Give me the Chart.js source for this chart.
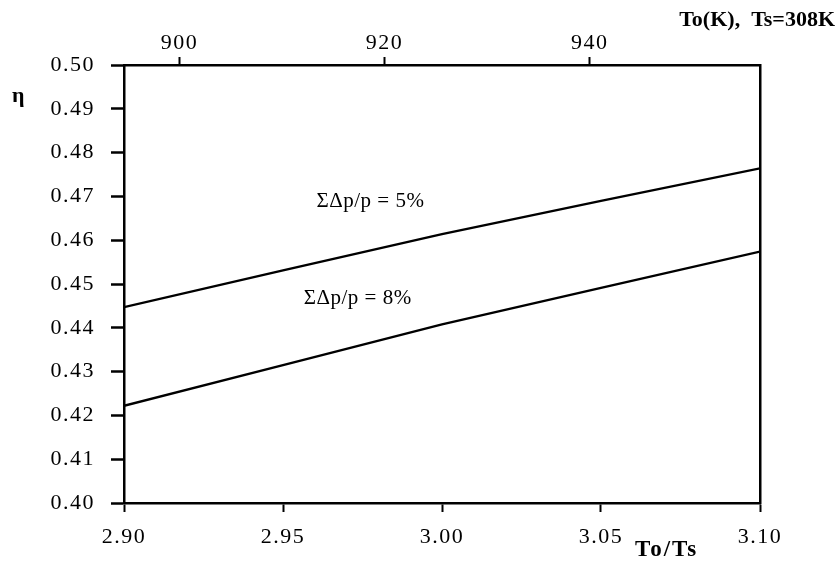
<!DOCTYPE html>
<html>
<head>
<meta charset="utf-8">
<script src="https://cdn.jsdelivr.net/npm/chart.js@4"></script>
<style>
  html, body { margin: 0; padding: 0; background: #fff; }
  #wrap { width: 837px; height: 562px; }
</style>
</head>
<body>
<div id="wrap"><canvas id="c" width="837" height="562"></canvas></div>
<script>
// data
const ratio = [2.90, 2.95, 3.00, 3.05, 3.10];          // To/Ts
const eta5 = [0.4447, 0.4531, 0.4614, 0.4690, 0.4764];  // ΣΔp/p = 5%
const eta8 = [0.4222, 0.4315, 0.4408, 0.4491, 0.4574];  // ΣΔp/p = 8%
const bottomTicks = [2.90, 2.95, 3.00, 3.05, 3.10];
const topTicks = [900, 920, 940];
const yTicks = [0.40, 0.41, 0.42, 0.43, 0.44, 0.45, 0.46, 0.47, 0.48, 0.49, 0.50];
const Ts = 308;

const serif = "'Liberation Serif', 'Times New Roman', serif";

// немного разрядки, как в оригинале
const spacingPlugin = {
  id: 'spacing',
  beforeDraw(chart) { chart.ctx.letterSpacing = '1.5px'; }
};

// Подписи кривых и осей
const textPlugin = {
  id: 'texts',
  afterDraw(chart) {
    const ctx = chart.ctx;
    const x = chart.scales.x, y = chart.scales.y;
    ctx.save();
    ctx.fillStyle = '#000';
    ctx.textBaseline = 'middle';
    ctx.textAlign = 'center';
    ctx.letterSpacing = '0.5px';
    ctx.font = '21px ' + serif;
    ctx.fillText('ΣΔp/p = 5%', x.getPixelForValue(2.9775), y.getPixelForValue(0.4688));
    ctx.fillText('ΣΔp/p = 8%', x.getPixelForValue(2.9735), y.getPixelForValue(0.4466));
    ctx.font = 'bold 22px ' + serif;
    ctx.textAlign = 'left';
    ctx.fillText('η', 12, 96);
    ctx.letterSpacing = '2px';
    ctx.font = 'bold 23px ' + serif;
    ctx.fillText('To/Ts', 635, 550);
    ctx.letterSpacing = '0px';
    ctx.textAlign = 'right';
    ctx.font = 'bold 22px ' + serif;
    ctx.fillText('To(K),  Ts=308K', 835, 20);
    ctx.restore();
  }
};

const tickFont = { family: serif, size: 22 };

new Chart(document.getElementById('c'), {
  type: 'line',
  data: {
    datasets: [
      { data: ratio.map((r, i) => ({ x: r, y: eta5[i] })), borderColor: '#000', borderWidth: 2.3, pointRadius: 0, tension: 0, xAxisID: 'x', yAxisID: 'y' },
      { data: ratio.map((r, i) => ({ x: r, y: eta8[i] })), borderColor: '#000', borderWidth: 2.3, pointRadius: 0, tension: 0, xAxisID: 'x', yAxisID: 'y' }
    ]
  },
  options: {
    responsive: false,
    animation: false,
    layout: { padding: { left: 0, right: 77, top: 0, bottom: 0 } },
    plugins: { legend: { display: false }, tooltip: { enabled: false } },
    scales: {
      x: {
        type: 'linear', position: 'bottom', min: 2.90, max: 3.10,
        afterBuildTicks: s => { s.ticks = bottomTicks.map(v => ({ value: v })); },
        afterFit: s => { s.height = 59; },
        grid: { drawOnChartArea: false, tickLength: 9, tickWidth: 2, tickColor: '#000' },
        border: { color: '#000', width: 2.5 },
        ticks: { color: '#000', font: tickFont, padding: 12, maxRotation: 0, callback: v => v.toFixed(2) }
      },
      xTop: {
        type: 'linear', position: 'top', min: 2.90 * Ts + 1.4, max: 3.10 * Ts + 1.8,
        afterBuildTicks: s => { s.ticks = topTicks.map(v => ({ value: v })); },
        afterFit: s => { s.height = 65; },
        grid: { drawOnChartArea: false, tickLength: 8, tickWidth: 2, tickColor: '#000' },
        border: { color: '#000', width: 2.5 },
        ticks: { color: '#000', font: tickFont, padding: 1, maxRotation: 0, callback: v => String(v) }
      },
      y: {
        type: 'linear', position: 'left', min: 0.40, max: 0.50,
        afterBuildTicks: s => { s.ticks = yTicks.map(v => ({ value: v })); },
        afterFit: s => { s.width = 124; },
        grid: { drawOnChartArea: false, tickLength: 13, tickWidth: 2.5, tickColor: '#000' },
        border: { color: '#000', width: 2.5 },
        ticks: { color: '#000', font: tickFont, padding: 16, callback: v => v.toFixed(2) }
      },
      yRight: {
        type: 'linear', position: 'right', min: 0.40, max: 0.50,
        afterFit: s => { s.width = 0; },
        grid: { display: false },
        border: { color: '#000', width: 2.5 },
        ticks: { display: false }
      }
    }
  },
  plugins: [spacingPlugin, textPlugin]
});
</script>
</body>
</html>
